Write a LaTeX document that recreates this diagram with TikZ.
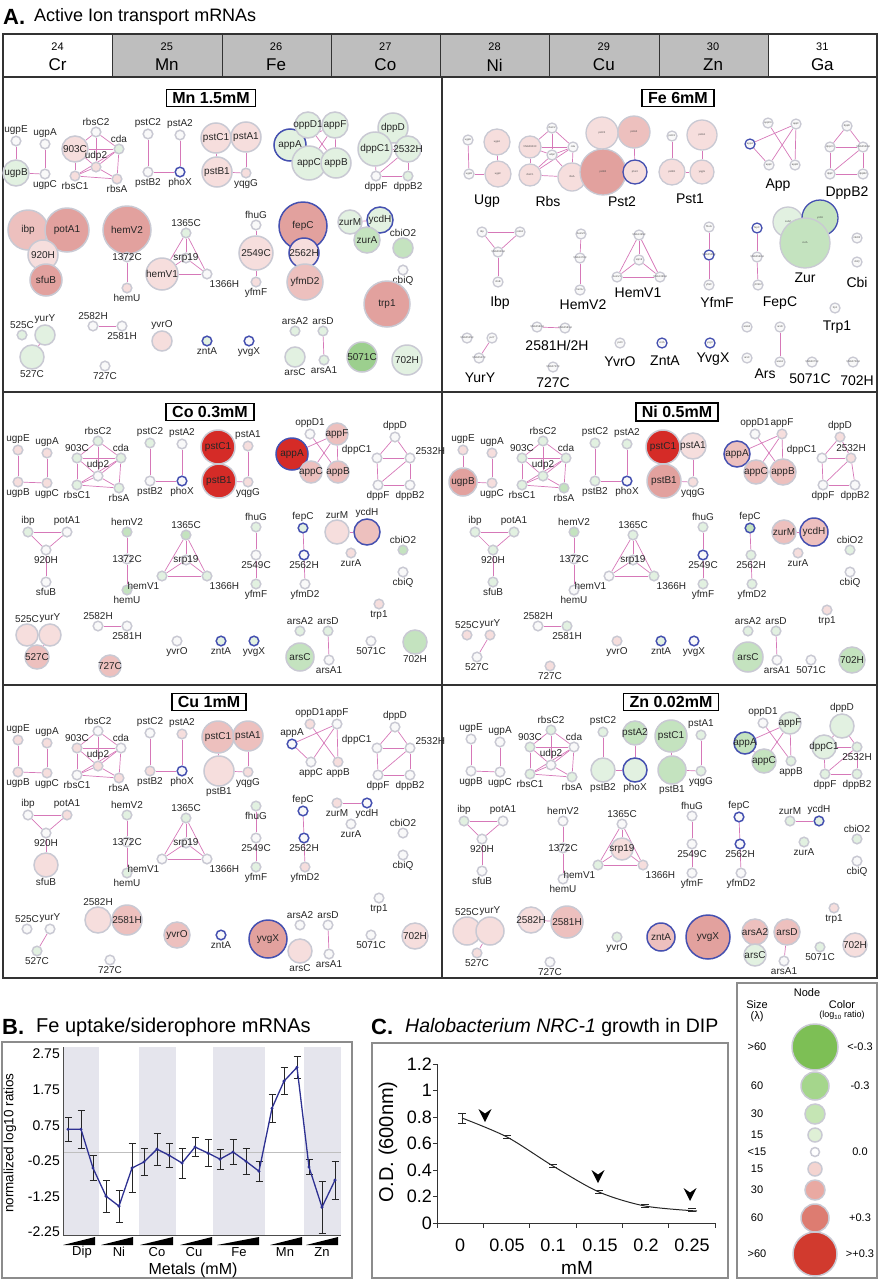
\documentclass[tikz,border=0pt]{standalone}
\usepackage{fontspec}
\setmainfont{Liberation Sans}
\usetikzlibrary{positioning,backgrounds}
\definecolor{frame}{HTML}{333333}
\definecolor{cellgray}{HTML}{BEBEBE}
\definecolor{ringg}{HTML}{C9C9D3}
\definecolor{ringb}{HTML}{4550B0}
\definecolor{edgec}{HTML}{D678B8}
\definecolor{gw}{HTML}{F9F9F9}
\definecolor{r1}{HTML}{F6DEDD}
\definecolor{r2}{HTML}{EDC0BE}
\definecolor{r3}{HTML}{E2A19E}
\definecolor{r4}{HTML}{D52B27}
\definecolor{g1}{HTML}{E2F1E1}
\definecolor{g2}{HTML}{C4E3BF}
\definecolor{g3}{HTML}{9CCF8E}
\definecolor{band}{HTML}{E5E5ED}
\definecolor{trace}{HTML}{2E3192}
\definecolor{lgg4}{HTML}{7DBF55}
\definecolor{lgg3}{HTML}{A5D68C}
\definecolor{lgg2}{HTML}{C5E5B4}
\definecolor{lgg1}{HTML}{DFF0D6}
\definecolor{lgr1}{HTML}{F4D4D0}
\definecolor{lgr2}{HTML}{E9A9A2}
\definecolor{lgr3}{HTML}{DD7C71}
\definecolor{lgr4}{HTML}{D13A2E}

\tikzset{
  gene/.style={circle, inner sep=0pt, line width=1.5pt},
  lab/.style={font=\fontsize{10}{11}\selectfont, inner sep=0.6pt, text=black!85},
  tinylab/.style={font=\fontsize{2.6}{3}\selectfont, inner sep=0pt, text=black!70},
  grp/.style={font=\fontsize{14}{16}\selectfont, inner sep=1pt},
  edge/.style={draw=edgec, line width=0.7pt},
  titlebox/.style={draw=black, line width=1.6pt, fill=white,
    font=\fontsize{16}{18}\selectfont\bfseries, inner xsep=6pt, inner ysep=3pt},
  frameline/.style={draw=frame, line width=2pt},
  hcell/.style={draw=frame, line width=1.2pt, anchor=north west,
    minimum width=109.25, minimum height=43, inner sep=0pt},
  boxline/.style={draw=black!45, line width=1.4pt},
  leg/.style={font=\fontsize{11}{12}\selectfont, inner sep=1pt},
}

% per panel gene look: radius, fill, ring, label mode (i inside, o layout, a above, b below)
\newcommand\gsp[6]{\expandafter\def\csname gsp@#1@#2\endcsname{{#3}{#4}{#5}{#6}}}
\newcommand\gsh[4]{\expandafter\def\csname gsh@#1@#2\endcsname{{#3}{#4}}}
\newcommand\readspec[4]{\def\gr{#1}\def\gc{#2}\def\gb{#3}\def\gm{#4}}
\newcommand\readshift[2]{\def\sx{#1}\def\sy{#2}}

% id/x/y/label angle/row
\def\genelayout{ugpE/18/450/90/1, ugpA/47/453/90/1, ugpB/18/482/270/1, ugpC/47/483/270/1,
  rbsC2/98/441/90/1, 903C/77/458/90/1, cda/121/458/90/1, udp2/98/476/90/1,
  rbsC1/77/485/270/1, rbsA/119/488/270/1,
  pstC2/150/443/90/1, pstA2/182/444/90/1, pstB2/150/481/270/1, phoX/182/481/270/1,
  pstC1/218/447/90/1, pstA1/248/446/90/1, pstB1/219/481/270/1, yqgG/248/482/270/1,
  appA/292/454/90/1, oppD1/310/434/90/1, appF/337/434/90/1, appC/311/472/270/1, appB/338/472/270/1,
  dppD/395/437/90/1, dppC1/377/458/150/1, 2532H/410/458/30/1, dppF/378/485/270/1, dppB2/410/485/270/1,
  ibp/28/532/90/2, potA1/67/532/90/2, 920H/46/550/270/2, sfuB/46/582/270/2,
  hemV2/127/532/90/2, 1372C/127/559/-1/2, hemU/127/590/270/2,
  1365C/186/535/90/2, srp19/186/560/-1/2, hemV1/162/576/250/2, 1366H/207/576/290/2,
  fhuG/256/527/90/2, 2549C/256/555/270/2, yfmF/256/584/270/2,
  fepC/303/528/90/2, 2562H/304/555/270/2, yfmD2/305/584/270/2,
  zurM/337/532/90/2, ycdH/367/532/90/2, zurA/351/553/270/2,
  cbiO2/403/550/90/2, cbiQ/403/572/270/2,
  trp1/379/604/270/3, 525C/27/635/90/3, yurY/50/635/90/3, 527C/37/657/270/3,
  2582H/98/626/90/3, 2581H/127/626/270/3, 727C/110/666/270/3,
  yvrO/177/641/270/3, zntA/221/641/270/3, yvgX/254/641/270/3,
  arsA2/300/631/90/3, arsD/328/631/90/3, arsC/300/657/270/3, arsA1/329/660/270/3,
  5071C/371/641/270/3, 702H/415/642/270/3}

\def\geneedges{ugpE/ugpB, ugpA/ugpC, ugpB/ugpC,
  rbsC2/903C, rbsC2/cda, rbsC2/udp2, 903C/cda, 903C/rbsC1, 903C/udp2, cda/udp2,
  cda/rbsA, cda/rbsC1, rbsC1/rbsA, udp2/rbsC1, udp2/rbsA,
  pstC2/pstB2, pstA2/phoX, pstB2/phoX, pstC1/pstB1, pstA1/yqgG, pstB1/yqgG,
  appA/appF, appA/appC, oppD1/appB, appF/appC, appF/appB,
  dppD/dppC1, dppD/2532H, dppC1/2532H, dppC1/dppF, 2532H/dppB2, dppF/dppB2, dppF/2532H,
  ibp/potA1, ibp/920H, potA1/920H, 920H/sfuB, hemV2/1372C, 1372C/hemU,
  1365C/hemV1, 1365C/1366H, 1365C/srp19, srp19/hemV1, srp19/1366H, hemV1/1366H,
  fhuG/2549C, 2549C/yfmF, fepC/2562H, 2562H/yfmD2, zurM/ycdH,
  yurY/527C, 2582H/2581H, arsD/arsA1}

\newcommand\drawgenes[7]{%
  \foreach \id/\x/\y/\la/\rw in \genelayout {%
    \ifcase\rw\or\def\ox{#2}\def\oy{#3}\or\def\ox{#4}\def\oy{#5}\or\def\ox{#6}\def\oy{#7}\fi
    \ifcsname gsp@#1@\id\endcsname
      \expandafter\expandafter\expandafter\readspec\csname gsp@#1@\id\endcsname
    \else\readspec{4.8}{gw}{ringg}{o}\fi
    \ifcsname gsh@#1@\id\endcsname
      \expandafter\expandafter\expandafter\readshift\csname gsh@#1@\id\endcsname
    \else\readshift{0}{0}\fi
    \edef\lang{\la}%
    \if a\gm\def\lang{90}\fi
    \if b\gm\def\lang{270}\fi
    \ifnum\lang<0 \def\gm{i}\fi
    \if i\gm
      \edef\tmp{\noexpand\node[gene, minimum size=2*\gr, fill=\gc, draw=\gb]
        (#1\id) at ({\x+\ox+\sx},{\y+\oy+\sy}) {};
        \noexpand\node[lab] (#1\id-t) at (#1\id) {\id};}%
    \else
      \edef\tmp{\noexpand\node[gene, minimum size=2*\gr, fill=\gc, draw=\gb,
        label={[lab]\lang:\id}] (#1\id) at ({\x+\ox+\sx},{\y+\oy+\sy}) {};}%
    \fi
    \tmp
  }
  \begin{pgfonlayer}{background}
    \foreach \a/\b in \geneedges {\draw[edge] (#1\a) -- (#1\b);}
  \end{pgfonlayer}}

% Mn 1.5mM
\gsp{Mn}{ugpB}{13}{g1}{ringg}{i}  \gsp{Mn}{903C}{13}{r1}{ringg}{i}
\gsp{Mn}{cda}{4.8}{g1}{ringg}{o}  \gsp{Mn}{udp2}{4.8}{r1}{ringg}{o}
\gsp{Mn}{rbsC1}{4.8}{r1}{ringg}{o} \gsp{Mn}{rbsA}{4.8}{r1}{ringg}{o}
\gsp{Mn}{phoX}{4.8}{gw}{ringb}{o}
\gsp{Mn}{pstC1}{15}{r1}{ringg}{i} \gsp{Mn}{pstA1}{15}{r1}{ringg}{i}
\gsp{Mn}{pstB1}{15}{r1}{ringg}{i} \gsp{Mn}{yqgG}{4.8}{r1}{ringg}{o}
\gsp{Mn}{appA}{16}{g1}{ringb}{i}  \gsp{Mn}{oppD1}{13}{g1}{ringg}{i}
\gsp{Mn}{appF}{13}{g1}{ringg}{i}  \gsp{Mn}{appC}{17}{g1}{ringg}{i}
\gsp{Mn}{appB}{15}{g1}{ringg}{i}  \gsp{Mn}{dppD}{15}{g1}{ringg}{i}
\gsp{Mn}{dppC1}{17}{g1}{ringg}{i} \gsp{Mn}{2532H}{13}{g1}{ringg}{i}
\gsp{Mn}{dppB2}{4.8}{g1}{ringg}{o}
\gsp{Mn}{ibp}{20}{r2}{ringg}{i}   \gsp{Mn}{potA1}{22}{r3}{ringg}{i}
\gsp{Mn}{920H}{15}{r1}{ringg}{i}  \gsp{Mn}{sfuB}{16}{r3}{ringg}{i}
\gsp{Mn}{hemV2}{24}{r3}{ringg}{i} \gsp{Mn}{hemU}{4.8}{r1}{ringg}{o}
\gsp{Mn}{1365C}{4.8}{g1}{ringg}{o} \gsp{Mn}{hemV1}{16}{r1}{ringg}{i}
\gsp{Mn}{2549C}{17}{r1}{ringg}{i} \gsp{Mn}{yfmF}{4.8}{r1}{ringg}{o}
\gsp{Mn}{fepC}{24}{r3}{ringb}{i}  \gsp{Mn}{2562H}{15}{r1}{ringb}{i}
\gsp{Mn}{yfmD2}{18}{r2}{ringg}{i} \gsp{Mn}{zurM}{12}{g1}{ringg}{i}
\gsp{Mn}{ycdH}{13}{g1}{ringb}{i}  \gsp{Mn}{zurA}{13}{g2}{ringg}{i}
\gsp{Mn}{cbiO2}{10}{g2}{ringg}{o} \gsp{Mn}{525C}{4.8}{g1}{ringg}{o}
\gsp{Mn}{yurY}{10}{g1}{ringg}{o}  \gsp{Mn}{527C}{12}{g1}{ringg}{o}
\gsp{Mn}{yvrO}{10}{r1}{ringg}{a}  \gsp{Mn}{zntA}{4.8}{g1}{ringb}{o}
\gsp{Mn}{yvgX}{4.8}{gw}{ringb}{o} \gsp{Mn}{arsA2}{4.8}{g1}{ringg}{o}
\gsp{Mn}{arsD}{4.8}{g1}{ringg}{o} \gsp{Mn}{arsC}{10}{g1}{ringg}{o}
\gsp{Mn}{arsA1}{4.8}{g1}{ringg}{o} \gsp{Mn}{trp1}{23}{r3}{ringg}{i}
\gsp{Mn}{5071C}{15}{g3}{ringg}{i} \gsp{Mn}{702H}{15}{g1}{ringg}{i}
\gsh{Mn}{trp1}{13}{0} \gsh{Mn}{5071C}{-4}{16} \gsh{Mn}{702H}{-3}{18}
\gsh{Mn}{zurM}{13}{-8} \gsh{Mn}{ycdH}{13}{-10} \gsh{Mn}{zurA}{16}{-11}
\gsh{Mn}{yvrO}{-10}{0} \gsh{Mn}{zntA}{-9}{0} \gsh{Mn}{920H}{-3}{7}

% Co 0.3mM
\gsp{Co}{ugpE}{4.8}{r1}{ringg}{o} \gsp{Co}{ugpA}{4.8}{r1}{ringg}{o}
\gsp{Co}{ugpB}{4.8}{r1}{ringg}{o} \gsp{Co}{ugpC}{4.8}{r1}{ringg}{o}
\gsp{Co}{rbsC2}{4.8}{g1}{ringg}{o} \gsp{Co}{903C}{4.8}{g1}{ringg}{o}
\gsp{Co}{cda}{4.8}{g1}{ringg}{o}  \gsp{Co}{rbsC1}{4.8}{g1}{ringg}{o}
\gsp{Co}{rbsA}{4.8}{g1}{ringg}{o} \gsp{Co}{pstC2}{4.8}{g1}{ringg}{o}
\gsp{Co}{phoX}{4.8}{gw}{ringb}{o}
\gsp{Co}{pstC1}{17}{r4}{ringg}{i} \gsp{Co}{pstB1}{17}{r4}{ringg}{i}
\gsp{Co}{pstA1}{4.8}{r1}{ringg}{o} \gsp{Co}{yqgG}{4.8}{r1}{ringg}{o}
\gsp{Co}{appA}{16}{r4}{ringb}{i}  \gsp{Co}{appF}{11}{r2}{ringg}{i}
\gsp{Co}{appC}{11}{r2}{ringg}{i}  \gsp{Co}{appB}{11}{r2}{ringg}{i}
\gsp{Co}{ibp}{4.8}{g1}{ringg}{o}  \gsp{Co}{hemV2}{4.8}{g2}{ringg}{o}
\gsp{Co}{hemU}{4.8}{g2}{ringg}{o} \gsp{Co}{1365C}{4.8}{g2}{ringg}{o}
\gsp{Co}{hemV1}{4.8}{g1}{ringg}{o} \gsp{Co}{1366H}{4.8}{g1}{ringg}{o}
\gsp{Co}{fhuG}{4.8}{g1}{ringg}{o} \gsp{Co}{yfmF}{4.8}{g1}{ringg}{o}
\gsp{Co}{fepC}{4.8}{g1}{ringb}{o} \gsp{Co}{2562H}{4.8}{gw}{ringb}{o}
\gsp{Co}{zurM}{12}{r1}{ringg}{o}  \gsp{Co}{ycdH}{13}{r2}{ringb}{o}
\gsp{Co}{zurA}{4.8}{r1}{ringg}{o} \gsp{Co}{cbiO2}{4.8}{g2}{ringg}{o}
\gsp{Co}{trp1}{4.8}{r1}{ringg}{o} \gsp{Co}{525C}{11}{r1}{ringg}{o}
\gsp{Co}{yurY}{11}{r1}{ringg}{o}  \gsp{Co}{527C}{12}{r2}{ringg}{i}
\gsp{Co}{727C}{11}{r2}{ringg}{i}  \gsp{Co}{zntA}{4.8}{g1}{ringb}{o}
\gsp{Co}{yvgX}{4.8}{g1}{ringb}{o} \gsp{Co}{arsA2}{4.8}{g1}{ringg}{o}
\gsp{Co}{arsD}{4.8}{g1}{ringg}{o} \gsp{Co}{arsC}{14}{g2}{ringg}{i}
\gsp{Co}{702H}{12}{g2}{ringg}{o}

% Ni 0.5mM
\gsp{Ni}{ugpE}{4.8}{r1}{ringg}{o} \gsp{Ni}{ugpA}{4.8}{r1}{ringg}{o}
\gsp{Ni}{ugpB}{14}{r3}{ringg}{i}  \gsp{Ni}{ugpC}{4.8}{r1}{ringg}{o}
\gsp{Ni}{rbsC2}{4.8}{g1}{ringg}{o} \gsp{Ni}{903C}{4.8}{g1}{ringg}{o}
\gsp{Ni}{cda}{4.8}{g1}{ringg}{o}  \gsp{Ni}{udp2}{4.8}{g1}{ringg}{o}
\gsp{Ni}{rbsC1}{4.8}{g1}{ringg}{o} \gsp{Ni}{rbsA}{4.8}{g2}{ringg}{o}
\gsp{Ni}{pstC2}{4.8}{g1}{ringg}{o} \gsp{Ni}{pstA2}{4.8}{g1}{ringg}{o}
\gsp{Ni}{pstB2}{4.8}{g1}{ringg}{o} \gsp{Ni}{phoX}{4.8}{gw}{ringb}{o}
\gsp{Ni}{pstC1}{17}{r4}{ringg}{i} \gsp{Ni}{pstA1}{13}{r1}{ringg}{i}
\gsp{Ni}{pstB1}{17}{r3}{ringg}{i} \gsp{Ni}{yqgG}{4.8}{r1}{ringg}{o}
\gsp{Ni}{appA}{13}{r2}{ringb}{i}  \gsp{Ni}{appF}{4.8}{r1}{ringg}{o}
\gsp{Ni}{appC}{12}{r2}{ringg}{i}  \gsp{Ni}{appB}{13}{r2}{ringg}{i}
\gsp{Ni}{dppD}{4.8}{r1}{ringg}{o} \gsp{Ni}{2532H}{4.8}{r1}{ringg}{a}
\gsp{Ni}{ibp}{4.8}{g1}{ringg}{o}  \gsp{Ni}{potA1}{4.8}{g1}{ringg}{o}
\gsp{Ni}{920H}{4.8}{g1}{ringg}{o} \gsp{Ni}{sfuB}{4.8}{g1}{ringg}{o}
\gsp{Ni}{hemV2}{4.8}{g2}{ringg}{o} \gsp{Ni}{1365C}{4.8}{g1}{ringg}{o}
\gsp{Ni}{1366H}{4.8}{g1}{ringg}{o} \gsp{Ni}{fhuG}{4.8}{g1}{ringg}{o}
\gsp{Ni}{2549C}{4.8}{gw}{ringb}{o} \gsp{Ni}{yfmF}{4.8}{g1}{ringg}{o}
\gsp{Ni}{fepC}{4.8}{g2}{ringb}{o} \gsp{Ni}{2562H}{4.8}{g1}{ringg}{o}
\gsp{Ni}{yfmD2}{4.8}{g1}{ringg}{o} \gsp{Ni}{zurM}{12}{r2}{ringg}{i}
\gsp{Ni}{ycdH}{14}{r2}{ringb}{i}  \gsp{Ni}{zurA}{4.8}{r1}{ringg}{o}
\gsp{Ni}{cbiO2}{4.8}{g1}{ringg}{o} \gsp{Ni}{trp1}{4.8}{r1}{ringg}{o}
\gsp{Ni}{525C}{4.8}{r1}{ringg}{o} \gsp{Ni}{yurY}{4.8}{r1}{ringg}{o}
\gsp{Ni}{2581H}{4.8}{g1}{ringg}{o} \gsp{Ni}{727C}{4.8}{r1}{ringg}{o}
\gsp{Ni}{yvrO}{4.8}{r1}{ringg}{o} \gsp{Ni}{zntA}{4.8}{g1}{ringb}{o}
\gsp{Ni}{yvgX}{4.8}{gw}{ringb}{o} \gsp{Ni}{arsA2}{4.8}{g1}{ringg}{o}
\gsp{Ni}{arsD}{4.8}{g1}{ringg}{o} \gsp{Ni}{arsC}{15}{g2}{ringg}{i}
\gsp{Ni}{702H}{13}{g2}{ringg}{i}
\gsh{Ni}{arsA2}{8}{0} \gsh{Ni}{arsD}{8}{0} \gsh{Ni}{arsC}{8}{0} \gsh{Ni}{arsA1}{8}{0}
\gsh{Ni}{trp1}{8}{6} \gsh{Ni}{5071C}{0}{19} \gsh{Ni}{702H}{-3}{18} \gsh{Ni}{2532H}{-4}{0}

% Cu 1mM
\gsp{Cu}{ugpE}{4.8}{r1}{ringg}{o} \gsp{Cu}{ugpA}{4.8}{r1}{ringg}{o}
\gsp{Cu}{ugpB}{4.8}{r1}{ringg}{o} \gsp{Cu}{ugpC}{4.8}{r1}{ringg}{o}
\gsp{Cu}{903C}{4.8}{r1}{ringg}{o} \gsp{Cu}{udp2}{4.8}{r1}{ringg}{o}
\gsp{Cu}{rbsA}{4.8}{r1}{ringg}{o} \gsp{Cu}{pstA2}{4.8}{r1}{ringg}{o}
\gsp{Cu}{pstB2}{4.8}{r1}{ringg}{o} \gsp{Cu}{phoX}{4.8}{gw}{ringb}{o}
\gsp{Cu}{pstC1}{16}{r2}{ringg}{i} \gsp{Cu}{pstA1}{15}{r2}{ringg}{i}
\gsp{Cu}{pstB1}{15}{r1}{ringg}{o} \gsp{Cu}{yqgG}{4.8}{r1}{ringg}{o}
\gsp{Cu}{appA}{4.8}{gw}{ringb}{o} \gsp{Cu}{oppD1}{4.8}{r1}{ringg}{o}
\gsp{Cu}{appB}{4.8}{r1}{ringg}{o} \gsp{Cu}{potA1}{4.8}{r1}{ringg}{o}
\gsp{Cu}{sfuB}{12}{r1}{ringg}{o}  \gsp{Cu}{hemV2}{4.8}{g1}{ringg}{o}
\gsp{Cu}{hemU}{4.8}{g1}{ringg}{o} \gsp{Cu}{1365C}{4.8}{g1}{ringg}{o}
\gsp{Cu}{fhuG}{4.8}{g1}{ringg}{b} \gsp{Cu}{yfmF}{4.8}{g1}{ringg}{o}
\gsp{Cu}{fepC}{4.8}{gw}{ringb}{o} \gsp{Cu}{2562H}{4.8}{gw}{ringb}{o}
\gsp{Cu}{yfmD2}{4.8}{r1}{ringg}{o} \gsp{Cu}{zurM}{4.8}{r1}{ringg}{b}
\gsp{Cu}{ycdH}{4.8}{gw}{ringb}{b} \gsp{Cu}{527C}{4.8}{g1}{ringg}{o}
\gsp{Cu}{2582H}{13}{r1}{ringg}{o} \gsp{Cu}{2581H}{15}{r2}{ringg}{i}
\gsp{Cu}{yvrO}{13}{r2}{ringg}{i}  \gsp{Cu}{zntA}{4.8}{gw}{ringb}{o}
\gsp{Cu}{yvgX}{19}{r3}{ringb}{i}  \gsp{Cu}{arsC}{12}{r1}{ringg}{o}
\gsp{Cu}{702H}{13}{r1}{ringg}{i}
\gsh{Cu}{zurM}{0}{-12} \gsh{Cu}{ycdH}{0}{-12} \gsh{Cu}{zurA}{0}{-12}
\gsh{Cu}{yvgX}{14}{4} \gsh{Cu}{fhuG}{0}{-4}

% Zn 0.02mM
\gsp{Zn}{rbsC2}{4.8}{g1}{ringg}{o} \gsp{Zn}{903C}{4.8}{g1}{ringg}{o}
\gsp{Zn}{rbsC1}{4.8}{g1}{ringg}{o} \gsp{Zn}{rbsA}{4.8}{g1}{ringg}{o}
\gsp{Zn}{pstC2}{4.8}{g1}{ringg}{o} \gsp{Zn}{pstA2}{12}{g2}{ringg}{i}
\gsp{Zn}{pstB2}{12}{g1}{ringg}{o} \gsp{Zn}{phoX}{12}{g1}{ringb}{o}
\gsp{Zn}{pstC1}{16}{g2}{ringg}{i} \gsp{Zn}{pstB1}{14}{g2}{ringg}{o}
\gsp{Zn}{pstA1}{4.8}{g1}{ringg}{o} \gsp{Zn}{yqgG}{4.8}{g1}{ringg}{o}
\gsp{Zn}{appA}{11}{g2}{ringb}{i}  \gsp{Zn}{appF}{11}{g1}{ringg}{i}
\gsp{Zn}{appC}{12}{g2}{ringg}{i}  \gsp{Zn}{appB}{4.8}{g1}{ringg}{o}
\gsp{Zn}{dppD}{12}{g1}{ringg}{o}  \gsp{Zn}{dppC1}{12}{g1}{ringg}{i}
\gsp{Zn}{2532H}{4.8}{g1}{ringg}{b} \gsp{Zn}{dppF}{4.8}{g1}{ringg}{o}
\gsp{Zn}{dppB2}{4.8}{g1}{ringg}{o} \gsp{Zn}{ibp}{4.8}{g1}{ringg}{o}
\gsp{Zn}{hemV1}{4.8}{g1}{ringg}{o} \gsp{Zn}{srp19}{11}{r1}{ringg}{i}
\gsp{Zn}{1366H}{4.8}{r1}{ringg}{o} \gsp{Zn}{fepC}{4.8}{gw}{ringb}{o}
\gsp{Zn}{2562H}{4.8}{gw}{ringb}{o} \gsp{Zn}{zurM}{4.8}{g1}{ringg}{o}
\gsp{Zn}{ycdH}{4.8}{g1}{ringb}{o} \gsp{Zn}{zurA}{4.8}{g1}{ringg}{o}
\gsp{Zn}{cbiO2}{4.8}{g1}{ringg}{o} \gsp{Zn}{trp1}{4.8}{r1}{ringg}{o}
\gsp{Zn}{525C}{14}{r1}{ringg}{o}  \gsp{Zn}{yurY}{14}{r1}{ringg}{o}
\gsp{Zn}{527C}{4.8}{r1}{ringg}{o} \gsp{Zn}{2582H}{13}{r1}{ringg}{i}
\gsp{Zn}{2581H}{16}{r2}{ringg}{i} \gsp{Zn}{yvrO}{4.8}{g1}{ringg}{o}
\gsp{Zn}{zntA}{14}{r2}{ringb}{i}  \gsp{Zn}{yvgX}{22}{r3}{ringb}{i}
\gsp{Zn}{arsA2}{13}{r2}{ringg}{i} \gsp{Zn}{arsD}{13}{r2}{ringg}{i}
\gsp{Zn}{arsC}{11}{g1}{ringg}{i}  \gsp{Zn}{5071C}{4.8}{g1}{ringg}{o}
\gsp{Zn}{702H}{12}{r1}{ringg}{i}
\gsh{Zn}{zurM}{17}{0} \gsh{Zn}{ycdH}{16}{0} \gsh{Zn}{zurA}{17}{0}
\gsh{Zn}{cbiO2}{18}{0} \gsh{Zn}{cbiQ}{18}{0} \gsh{Zn}{2582H}{-7}{-2}
\gsh{Zn}{yvgX}{14}{0} \gsh{Zn}{arsA2}{15}{5} \gsh{Zn}{arsD}{19}{5}
\gsh{Zn}{arsC}{15}{2} \gsh{Zn}{arsA1}{15}{5} \gsh{Zn}{trp1}{15}{8}
\gsh{Zn}{5071C}{9}{10} \gsh{Zn}{702H}{0}{7}
\gsh{Zn}{dppD}{-6}{0} \gsh{Zn}{dppC1}{-6}{0} \gsh{Zn}{2532H}{-6}{0}
\gsh{Zn}{dppF}{-6}{0} \gsh{Zn}{dppB2}{-6}{0}

\begin{document}
\begin{tikzpicture}[x=1pt, y=-1pt]
\useasboundingbox (0,0) rectangle (880,1280);

% ---- A: periodic header and frame
\node[anchor=west, font=\fontsize{22}{24}\selectfont\bfseries, inner sep=0pt] (Atag) at (3,17) {A.};
\node[anchor=west, font=\fontsize{18}{20}\selectfont, inner sep=0pt] (Atitle) at (34,17) {Active Ion transport mRNAs};
\foreach \n/\s/\f [count=\i from 0] in {24/Cr/white, 25/Mn/cellgray, 26/Fe/cellgray, 27/Co/cellgray,
    28/Ni/cellgray, 29/Cu/cellgray, 30/Zn/cellgray, 31/Ga/white}{
  \node[hcell, fill=\f] (h\s) at ({3+109.25*\i},34) {};
  \node[font=\fontsize{11}{12}\selectfont] (h\s-n) at ({57.6+109.25*\i},47) {\n};
  \node[font=\fontsize{17}{18}\selectfont] (h\s-s) at ({57.6+109.25*\i},65) {\s};
}
\draw[frameline] (3,34) rectangle (877,978);
\draw[frameline] (3,77) -- (877,77) (3,392) -- (877,392) (3,685) -- (877,685) (442,77) -- (442,978);

% ---- gene networks
\drawgenes{Mn}{-2}{-309}{0}{-302}{-5}{-300}
\drawgenes{Co}{0}{0}{0}{0}{0}{0}
\drawgenes{Ni}{445}{0}{447}{0}{440}{0}
\drawgenes{Cu}{0}{290}{0}{283}{0}{294}
\drawgenes{Zn}{453}{289}{436}{289}{440}{296}

% Fe 6mM: own layout, tiny gene names, group names
\foreach \id/\x/\y/\fr/\fc/\fb/\ft in {
  ugpE/468/140/5/gw/ringg/ugpE, ugpA/497/142/13/r1/ringg/ugpA, ugpB/469/174/5/gw/ringg/ugpB,
  ugpC/498/174/13/r1/ringg/ugpC, rbsC2/552/128/5/gw/ringg/rbsC2, 903C/530/147/11/r1/ringg/VNG0903C,
  cda/573/147/5/gw/ringg/cda, udp2/552/155/5/gw/ringg/udp2, rbsC1/530/175/11/r1/ringg/rbsC1,
  rbsA/572/177/14/r1/ringg/rbsA, pstC2/602/133/16/r1/ringg/pstC2, pstA2/634/132/16/r2/ringg/pstA2,
  pstB2/603/172/23/r3/ringg/pstB2, phoX/635/172/12/r1/ringb/phoX, pstC1/672/136/5/gw/ringg/pstC1,
  pstA1/702/135/15/r1/ringg/pstA1, pstB1/672/172/13/r1/ringg/pstB1, yqgG/702/172/12/r1/ringg/yqgG,
  oppD1/768/123/5/gw/ringg/oppD1, appF/796/124/5/gw/ringg/appF, appA/750/144/5/gw/ringb/appA,
  appC/769/165/5/gw/ringg/appC, appB/795/165/5/gw/ringg/appB, dppD/847/126/5/gw/ringg/dppD,
  dppC1/830/147/5/gw/ringg/dppC1, 2532H/863/147/5/gw/ringg/VNG2532H, dppF/830/174/5/gw/ringg/dppF,
  dppB2/863/174/5/gw/ringg/dppB2, ibp/482/232/5/gw/ringg/ibp, potA1/520/232/5/gw/ringg/potA1,
  920H/498/252/5/gw/ringg/VNG0920H, sfuB/498/282/5/gw/ringg/sfuB, hemV2/581/234/5/gw/ringg/hemV2,
  1372C/580/258/5/gw/ringg/VNG1372C, hemU/580/290/5/gw/ringg/hemU, 1365C/639/235/5/gw/ringg/VNG1365C,
  srp19/639/260/5/gw/ringg/srp19, hemV1/617/277/5/gw/ringg/hemV1, 1366H/660/277/5/gw/ringg/VNG1366H,
  fhuG/709/227/5/gw/ringg/fhuG, 2549C/709/255/5/gw/ringb/VNG2549C, yfmF/709/285/5/gw/ringg/yfmF,
  fepC/757/228/5/gw/ringb/fepC, 2562H/757/257/5/gw/ringg/VNG2562H, yfmD2/758/285/5/gw/ringg/yfmD2,
  zurM/788/222/15/g1/ringg/zurM, ycdH/820/218/18/g2/ringb/ycdH, zurA/805/243/25/g2/ringg/zurA,
  cbiO2/857/238/5/gw/ringg/cbiO2, cbiQ/857/262/5/gw/ringg/cbiQ, trp1/835/308/5/gw/ringg/trp1,
  525C/467/338/5/gw/ringg/VNG0525C, yurY/492/338/5/gw/ringg/yurY, 527C/479/358/5/gw/ringg/VNG0527C,
  2582H/537/327/5/gw/ringg/VNG2582H, 2581H/565/328/5/gw/ringg/VNG2581H, 727C/553/367/5/gw/ringg/VNG0727C,
  yvrO/620/343/5/gw/ringg/yvrO, zntA/662/343/5/gw/ringb/zntA, yvgX/710/343/5/gw/ringb/yvgX,
  arsA2/747/327/5/gw/ringg/arsA2, arsD/780/327/5/gw/ringg/arsD, arsC/747/358/5/gw/ringg/arsC,
  arsA1/780/362/5/gw/ringg/arsA1, 5071C/812/362/5/gw/ringg/VNG5071C, 702H/853/362/5/gw/ringg/VNG0702H}{
  \node[gene, line width=1.3pt, minimum size=2*\fr, fill=\fc, draw=\fb] (Fe\id) at (\x,\y) {};
  \node[tinylab] (Fe\id-t) at (Fe\id) {\ft};
}
\begin{pgfonlayer}{background}
  \foreach \a/\b in \geneedges {\draw[edge] (Fe\a) -- (Fe\b);}
\end{pgfonlayer}
\foreach \t/\x/\y [count=\k] in {Ugp/487/201, Rbs/548/201, Pst2/622/202, Pst1/690/199, App/778/185,
    DppB2/847/193, Ibp/500/303, HemV2/583/305, HemV1/638/293, YfmF/717/302, FepC/780/303,
    Zur/805/278, Cbi/857/282, Trp1/837/327, YurY/480/378, {2581H/2H}/557/345, 727C/553/383,
    YvrO/620/362, ZntA/665/361, YvgX/713/359, Ars/765/374, 5071C/810/379, 702H/857/381}{
  \node[grp] (grp\k) at (\x,\y) {\t};
}

% concentration boxes
\node[titlebox] (tMn) at (211,98) {Mn 1.5mM};
\node[titlebox] (tFe) at (678,98) {Fe 6mM};
\node[titlebox] (tCo) at (210,412) {Co 0.3mM};
\node[titlebox] (tNi) at (677,412) {Ni 0.5mM};
\node[titlebox] (tCu) at (209,702) {Cu 1mM};
\node[titlebox] (tZn) at (671,702) {Zn 0.02mM};

% ---- B: Fe uptake
\node[anchor=west, font=\fontsize{22}{24}\selectfont\bfseries, inner sep=0pt] (Btag) at (2,1027) {B.};
\node[anchor=west, font=\fontsize{20}{22}\selectfont, inner sep=0pt] (Btitle) at (36,1027) {Fe uptake/siderophore mRNAs};
\draw[boxline] (2,1042) rectangle (352,1278);
\foreach \xa/\xb in {63/99, 139/176, 213/265, 304/341}
  \fill[band] (\xa,1047) rectangle (\xb,1235);
\draw[black!25, line width=0.5pt] (63,1152) -- (341,1152);
\draw[black!70, line width=0.8pt] (63,1047) -- (63,1235) -- (341,1235);
\foreach \v [count=\k] in {2.75,1.75,0.75,-0.25,-1.25,-2.25}
  \node[anchor=east, font=\fontsize{14}{15}\selectfont, inner sep=1pt] (by\k) at (61,{1152-35.6*\v}) {\v};
\node[rotate=90, font=\fontsize{13.5}{15}\selectfont] (bylab) at (10,1143) {normalized log10 ratios};
\begin{scope}[shift={(0,1152)}, yscale=-35.6]
  \foreach \x/\v/\e in {68/0.64/0.34, 81/0.64/0.53, 93/-0.45/0.34, 106/-1.24/0.45, 119/-1.52/0.45,
      132/-0.45/0.70, 144/-0.28/0.39, 157/0.08/0.45, 169/-0.09/0.34, 182/-0.31/0.42, 195/0.14/0.28,
      208/-0.03/0.39, 220/-0.20/0.28, 233/0.00/0.34, 246/-0.26/0.37, 259/-0.54/0.28, 272/1.23/0.39,
      284/1.99/0.37, 297/2.38/0.31, 309/-0.42/0.20, 322/-1.55/0.73, 335/-0.79/0.53}{
    \draw[black!85, line width=1pt] (\x,\v-\e) -- (\x,\v+\e)
      (\x-3.5,\v-\e) -- (\x+3.5,\v-\e) (\x-3.5,\v+\e) -- (\x+3.5,\v+\e);
  }
  \draw[trace, line width=1.3pt] plot coordinates {(68,0.64) (81,0.64) (93,-0.45) (106,-1.24)
    (119,-1.52) (132,-0.45) (144,-0.28) (157,0.08) (169,-0.09) (182,-0.31) (195,0.14) (208,-0.03)
    (220,-0.20) (233,0.00) (246,-0.26) (259,-0.54) (272,1.23) (284,1.99) (297,2.38) (309,-0.42)
    (322,-1.55) (335,-0.79)};
\end{scope}
\foreach \x/\v in {68/0.64, 81/0.64, 93/-0.45, 106/-1.24, 119/-1.52, 132/-0.45, 144/-0.28, 157/0.08,
    169/-0.09, 182/-0.31, 195/0.14, 208/-0.03, 220/-0.20, 233/0.00, 246/-0.26, 259/-0.54, 272/1.23,
    284/1.99, 297/2.38, 309/-0.42, 322/-1.55, 335/-0.79}
  \fill[trace] (\x,{1152-35.6*\v}) circle (1.7);
\foreach \xa/\xb in {63/95, 101/133, 140/173, 180/212, 217/259, 270/302, 306/338}
  \fill (\xa,1245) -- (\xb,1245) -- (\xb,1237) -- cycle;
\foreach \x/\m in {82/Dip, 119/Ni, 157/Co, 194/Cu, 239/Fe, 285/Mn, 322/Zn}
  \node[font=\fontsize{13}{14}\selectfont, inner sep=0pt] (bm\m) at (\x,1252) {\m};
\node[font=\fontsize{16}{17}\selectfont, inner sep=0pt] (bxlab) at (193,1270) {Metals (mM)};

% ---- C: growth in DIP
\node[anchor=west, font=\fontsize{22}{24}\selectfont\bfseries, inner sep=0pt] (Ctag) at (371,1027) {C.};
\node[anchor=west, font=\fontsize{19.5}{22}\selectfont, inner sep=0pt] (Ctitle) at (405,1027)
  {\textit{Halobacterium NRC-1} growth in DIP};
\draw[boxline] (372,1043) rectangle (728,1278);
\draw[black!80, line width=0.9pt] (437,1064) -- (437,1223) -- (715,1223);
\foreach \v [count=\k] in {0,0.2,0.4,0.6,0.8,1,1.2}{
  \draw[black!80, line width=0.9pt] (433,{1223-132.5*\v}) -- (437,{1223-132.5*\v});
  \node[anchor=east, font=\fontsize{18}{19}\selectfont, inner sep=1pt] (cy\k) at (433,{1223-132.5*\v}) {\v};
}
\foreach \i in {0,...,6}
  \draw[black!80, line width=0.9pt] ({437+46.33*\i},1223) -- ({437+46.33*\i},1228);
\foreach \x/\t [count=\k] in {460/0, 507/0.05, 553/0.1, 600/0.15, 646/0.2, 692/0.25}
  \node[font=\fontsize{18}{19}\selectfont, inner sep=0pt] (cx\k) at (\x,1245) {\t};
\node[font=\fontsize{19}{20}\selectfont, inner sep=0pt] (cxlab) at (577,1268) {mM};
\node[rotate=90, font=\fontsize{20}{22}\selectfont] (cylab) at (388,1142) {O.D. (600nm)};
\draw[black!85, line width=1pt] plot[smooth] coordinates {(462,1118) (507,1137) (553,1166)
  (599,1192) (645,1206) (697,1211)};
\draw[black!85, line width=0.9pt] (462,1113) -- (462,1123) (458,1113) -- (466,1113) (458,1123) -- (466,1123);
\foreach \x/\y in {507/1137, 553/1166, 599/1192, 645/1206, 692/1210}
  \draw[black!85, line width=0.9pt] (\x-4,\y-1.5) -- (\x+4,\y-1.5) (\x-4,\y+1.5) -- (\x+4,\y+1.5);
\foreach \x/\y in {485/1116, 598/1177, 690/1195}
  \fill (\x-6.5,\y-7) -- (\x,\y+6) -- (\x+6.5,\y-7) -- (\x,\y-2.5) -- cycle;

% ---- legend
\draw[boxline] (737,983) rectangle (877,1278);
\node[leg] (lgHead) at (807,993) {Node};
\node[leg] (lgSize) at (757,1005) {Size};
\node[leg, below=0pt of lgSize] (lgLam) {(λ)};
\node[leg] (lgColor) at (842,1005) {Color};
\node[leg, font=\fontsize{9}{10}\selectfont, below=0pt of lgColor] (lgLog) {(log\textsubscript{10} ratio)};
\foreach \y/\d/\col/\lt/\rt [count=\k] in {1047/46/lgg4/{>60}/{<-0.3}, 1086/28/lgg3/60/-0.3,
    1114/20/lgg2/30/{}, 1135/14/lgg1/15/{}, 1152/9/white/{<15}/0.0, 1169/14/lgr1/15/{},
    1190/20/lgr2/30/{}, 1218/28/lgr3/60/+0.3, 1254/44/lgr4/{>60}/{>+0.3}}{
  \node[gene, draw=ringg, fill=\col, minimum size=\d] (lgc\k) at (815,\y) {};
  \node[leg] (lgl\k) at (757,\y) {\lt};
  \node[leg] (lgr\k) at (860,\y) {\rt};
}
\end{tikzpicture}
\end{document}
